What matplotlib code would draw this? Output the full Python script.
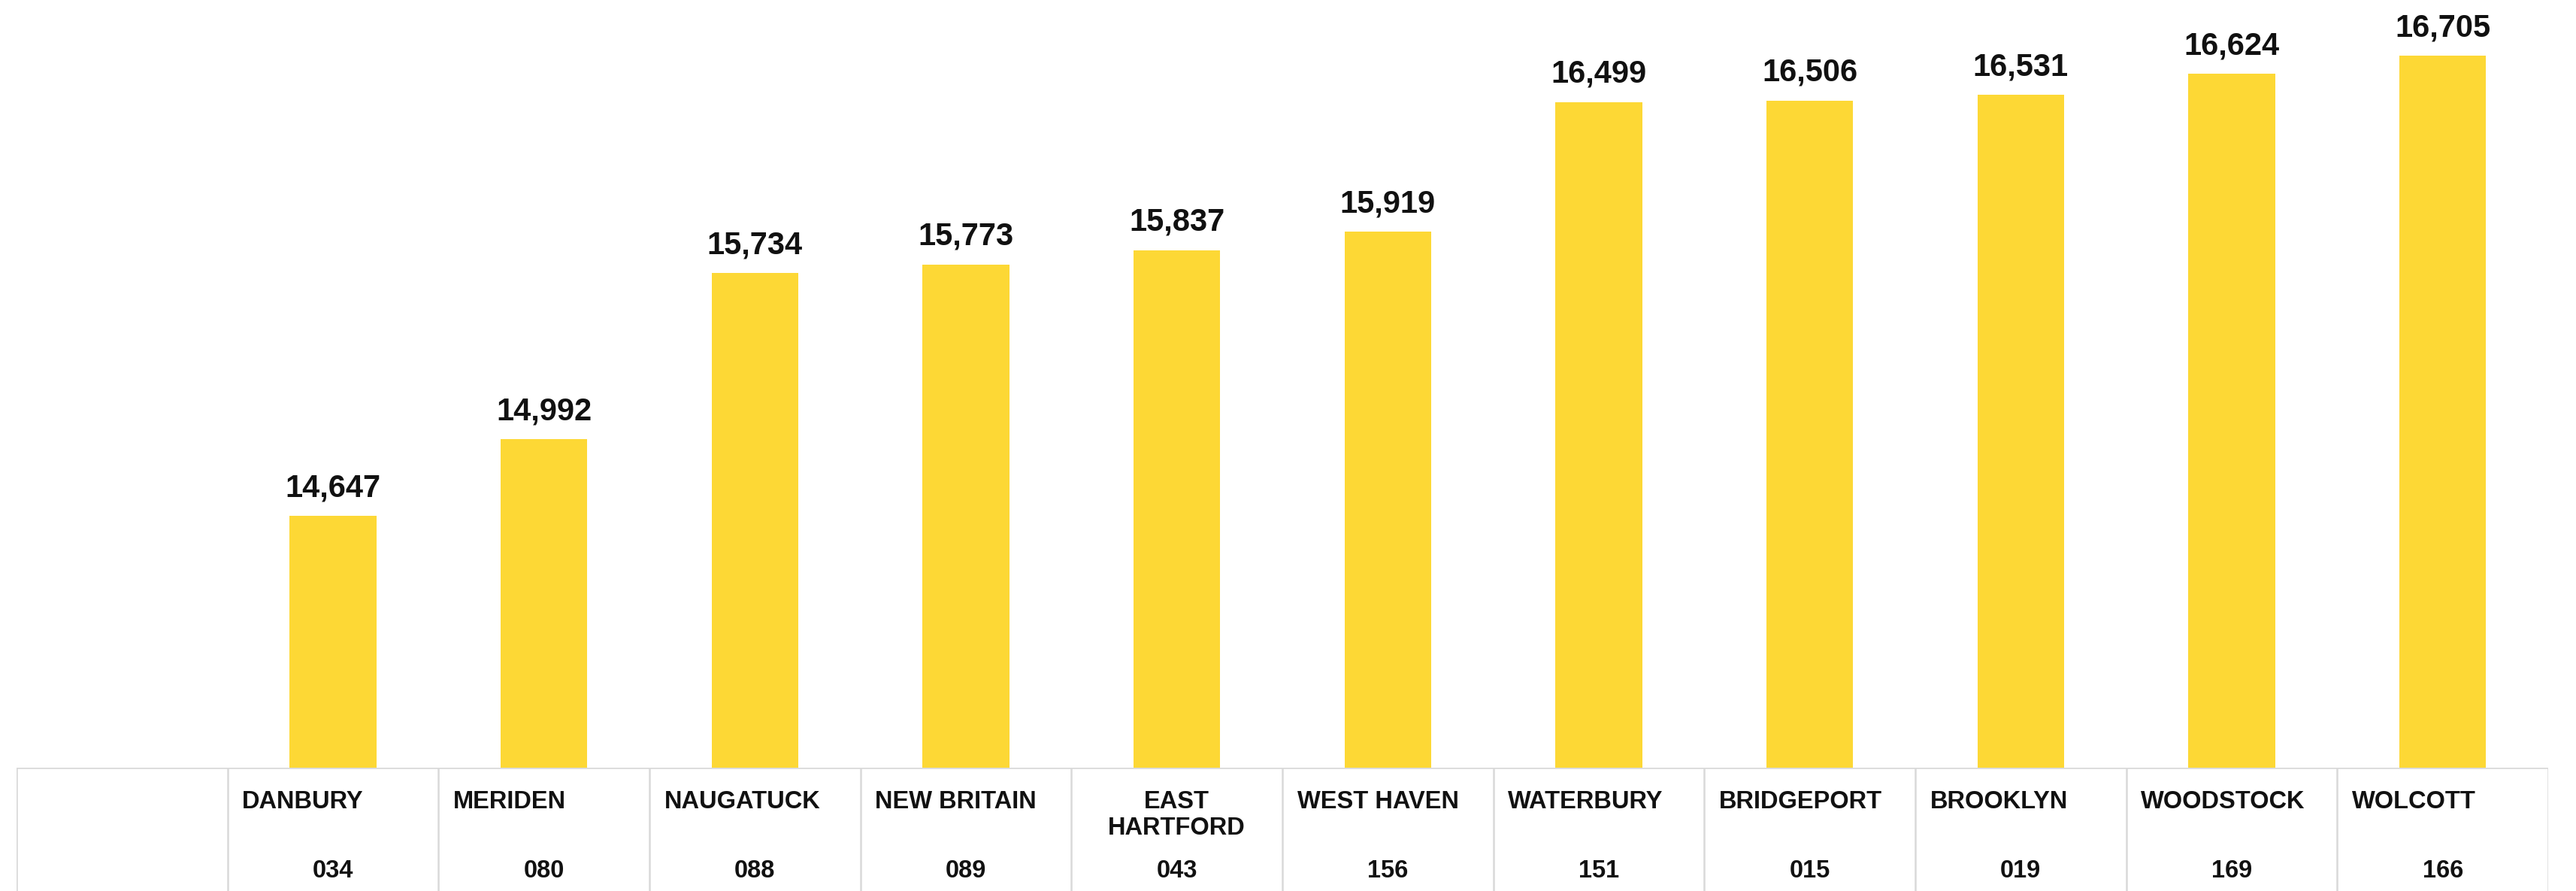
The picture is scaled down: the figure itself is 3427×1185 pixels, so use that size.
#!/usr/bin/env python3
# -*- coding: utf-8 -*-
import matplotlib
matplotlib.use('Agg')
import matplotlib.pyplot as plt

towns = ['DANBURY', 'MERIDEN', 'NAUGATUCK', 'NEW BRITAIN', 'EAST\nHARTFORD',
         'WEST HAVEN', 'WATERBURY', 'BRIDGEPORT', 'BROOKLYN', 'WOODSTOCK', 'WOLCOTT']
codes = ['034', '080', '088', '089', '043', '156', '151', '015', '019', '169', '166']
values = [14647, 14992, 15734, 15773, 15837, 15919, 16499, 16506, 16531, 16624, 16705]

bar_color = '#FDD835'
grid_color = '#d9d9d9'
plt.rcParams['font.family'] = ['Liberation Sans', 'DejaVu Sans']

#!----------------------------------------------------------------------
#!	PLOT
#!----------------------------------------------------------------------
W, H = 3427, 1185
fig = plt.figure(figsize=(W/100, H/100), dpi=100)

left = 22/W
width = (3390-22)/W
bottom = 164/H

ax = fig.add_axes([left, bottom, width, 1-bottom])
xs = list(range(1, len(values)+1))
bars = ax.bar(xs, values, width=0.41, color=bar_color)
ax.set_xlim(-0.5, len(values)+0.5)
ax.set_ylim(13522, 16955)
ax.axis('off')

for x, v in zip(xs, values):
	ax.annotate(f"{v:,}", (x, v), xytext=(0, 12), textcoords='offset points',
				ha='center', va='bottom', fontsize=30, fontweight='bold', color='#111111')

# table under the bars
tab = fig.add_axes([left, 0, width, bottom])
tab.set_xlim(ax.get_xlim())
tab.set_ylim(0, 1)
tab.axis('off')
tab.vlines([k-0.5 for k in range(len(values)+2)], 0, 1, color=grid_color, lw=1.8)
tab.axhline(1, color=grid_color, lw=2.6)

for x, name, code in zip(xs, towns, codes):
	if '\n' in name:
		tab.text(x, 0.82, name, ha='center', va='top', fontsize=23.5,
				 fontweight='bold', linespacing=1.2, color='#111111')
	else:
		tab.text(x-0.43, 0.82, name, ha='left', va='top', fontsize=23.5,
				 fontweight='bold', color='#111111')
	tab.text(x, 0.16, code, ha='center', va='center', fontsize=23.5,
			 fontweight='bold', color='#111111')

plt.savefig('out.png', dpi=100)
